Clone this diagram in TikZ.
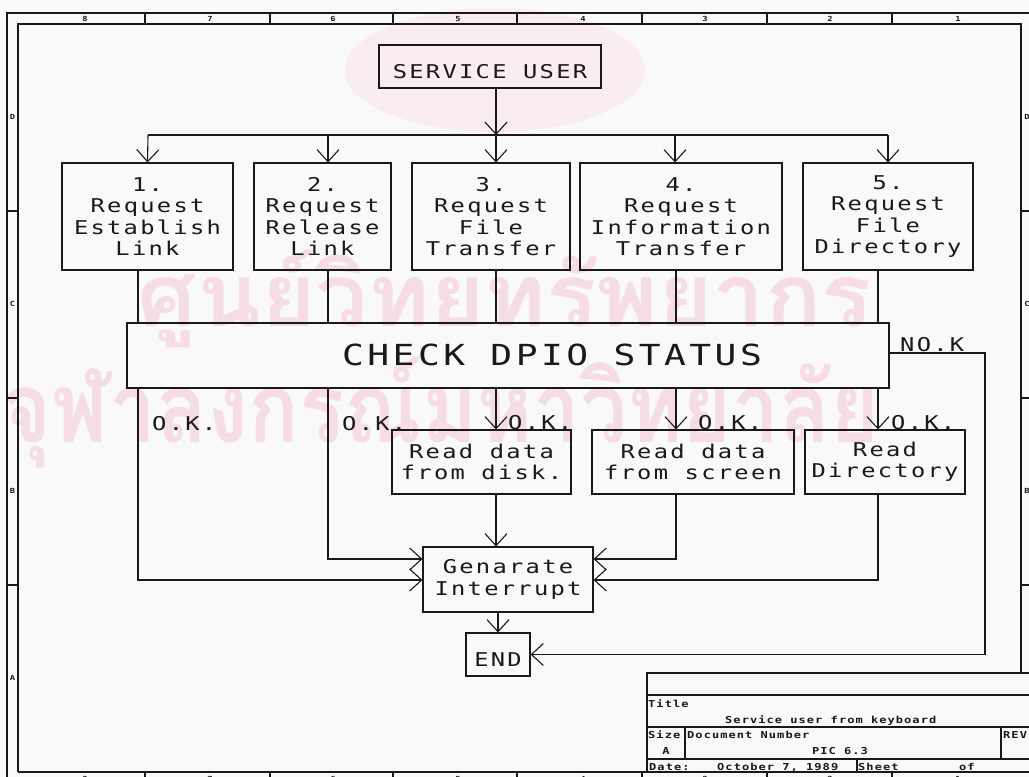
\documentclass[tikz,border=0pt]{standalone}
\usepackage{fontspec}
\usepackage{graphicx}
\usetikzlibrary{arrows.meta}
\newfontfamily\plotfont[FakeStretch=1.25,LetterSpace=12]{DejaVu Sans Mono}
\newfontfamily\tbfont[FakeStretch=1.25,LetterSpace=11]{DejaVu Sans Mono}
\newfontfamily\thaifont[Script=Thai]{Loma}
\definecolor{wm}{RGB}{245,220,229}
\definecolor{wmb}{RGB}{249,237,242}
\definecolor{paper}{RGB}{250,249,249}
\definecolor{ink}{RGB}{25,25,25}
\newcommand{\topstrut}{\rule{0pt}{24pt}}
\tikzset{
 pl/.style={draw=ink, line width=1.1pt},
 box/.style={draw=ink, line width=1.1pt, inner sep=0pt, align=center, font=\plotfont\fontsize{19}{21.5}\selectfont, text=ink, execute at begin node={\topstrut}},
 txt/.style={inner sep=0pt, font=\plotfont\fontsize{19}{21.5}\selectfont, text=ink},
 bigtxt/.style={inner sep=0pt, font=\plotfont\fontsize{29}{32}\selectfont, text=ink},
 tb/.style={inner sep=0pt, font=\tbfont\bfseries\fontsize{9.6}{11}\selectfont, text=ink},
 fr/.style={inner sep=0pt, font=\tbfont\bfseries\fontsize{7}{8}\selectfont, text=ink},
 arr/.style={draw=ink, line width=1.1pt, -{Straight Barb[length=12pt,width=22pt]}},
}
\begin{document}
\begin{tikzpicture}[x=1pt,y=-1pt]
\useasboundingbox (0,0) rectangle (1029,777);
\fill[paper] (0,0) rectangle (1029,777);
\begin{scope}
\clip (0,0) rectangle (1029,777);
% watermark
\fill[wmb] (495,70) ellipse [x radius=150pt, y radius=62pt];
\node[text=wm, inner sep=0pt] (wm1) at (505,299) {\resizebox*{734pt}{98pt}{\thaifont\bfseries ศูนย์วิทยทรัพยากร}};
\node[text=wm, inner sep=0pt] (wm2) at (441,412) {\resizebox*{877pt}{111pt}{\thaifont\bfseries จุฬาลงกรณ์มหาวิทยาลัย}};
% frame
\draw[pl] (7,13) rectangle (1040,790);
\draw[pl] (18,772) -- (18,24) -- (1021,24) -- (1021,673);
\draw[pl] (18,772) -- (1029,772);
\foreach \x in {145,270,393,517,642,767,892} {
  \draw[pl] (\x,13) -- (\x,24);
  \draw[pl] (\x,772) -- (\x,790);
}
\foreach \x/\t in {85/8,210/7,333/6,458/5,583/4,705/3,830/2,958/1} {
  \node[fr] at (\x,19) {\t};
  \node[fr] at (\x,779) {\t};
}
\foreach \y in {211,398,585} {
  \draw[pl] (7,\y) -- (18,\y);
  \draw[pl] (1021,\y) -- (1040,\y);
}
\foreach \y/\t in {117/D,304/C,491/B,678/A} {
  \node[fr] at (12.5,\y) {\t};
}
\foreach \y/\t in {117/D,304/C,491/B} {
  \node[fr] at (1027,\y) {\t};
}
\end{scope}
% nodes
\node[box, minimum width=222pt, minimum height=43pt] (su) at (490,66.5) {SERVICE USER};
\node[box, minimum width=171pt, minimum height=107pt] (b1) at (147.5,216.5) {1.\\Request\\Establish\\Link};
\node[box, minimum width=137pt, minimum height=107pt] (b2) at (322.5,216.5) {2.\\Request\\Release\\Link};
\node[box, minimum width=158pt, minimum height=107pt] (b3) at (491,216.5) {3.\\Request\\File\\Transfer};
\node[box, minimum width=202pt, minimum height=107pt] (b4) at (681,216.5) {4.\\Request\\Information\\Transfer};
\node[box, minimum width=170pt, minimum height=107pt] (b5) at (888,216.5) {5.\\Request\\File\\Directory};
\node[draw=ink, line width=1.1pt, inner sep=0pt, minimum width=762pt, minimum height=65pt] (chk) at (508,355.5) {};
\node[bigtxt] (chkt) at ([xshift=44pt,yshift=1pt]chk.center) {CHECK DPIO STATUS};
\node[box, minimum width=179pt, minimum height=64pt] (rd1) at (481.5,462) {Read data\\from disk.};
\node[box, minimum width=202pt, minimum height=64pt] (rd2) at (693,462) {Read data\\from screen};
\node[box, minimum width=160pt, minimum height=64pt] (rd3) at (885,462) {Read\\Directory};
\node[box, minimum width=170pt, minimum height=65pt] (gen) at (508,579.5) {Genarate\\Interrupt};
\node[box, minimum width=64pt, minimum height=43pt] (e) at (498,654.5) {END};
% helper coordinates
\coordinate (busL) at (148,135);
\coordinate (busR) at (888,135);
\coordinate (busM) at (496,135);
\coordinate (t2) at (328,135);
\coordinate (t4) at (675,135);
\coordinate (c1) at (138,0);
\coordinate (c2) at (328,0);
\coordinate (c3) at (496,0);
\coordinate (c4) at (676,0);
\coordinate (c5) at (878,0);
\coordinate (ya) at (0,559);
\coordinate (yb) at (0,580);
\coordinate (nk) at (985,353);
% connectors
\draw[arr] (su.south -| busM) -- (busM);
\draw[pl] (busL) -- (busR);
\draw[arr] (busL) -- (b1.north);
\draw[arr] (t2) -- (b2.north -| t2);
\draw[arr] (busM) -- (b3.north -| busM);
\draw[arr] (t4) -- (b4.north -| t4);
\draw[arr] (busR) -- (b5.north -| busR);
\draw[pl] (b1.south -| c1) -- (chk.north -| c1);
\draw[pl] (b2.south -| c2) -- (chk.north -| c2);
\draw[pl] (b3.south -| c3) -- (chk.north -| c3);
\draw[pl] (b4.south -| c4) -- (chk.north -| c4);
\draw[pl] (b5.south -| c5) -- (chk.north -| c5);
\draw[arr] (chk.south -| c1) |- (gen.west |- yb);
\draw[arr] (chk.south -| c2) |- (gen.west |- ya);
\draw[arr] (chk.south -| c3) -- (rd1.north -| c3);
\draw[arr] (chk.south -| c4) -- (rd2.north -| c4);
\draw[arr] (chk.south -| c5) -- (rd3.north -| c5);
\draw[arr] (rd1.south -| c3) -- (gen.north -| c3);
\draw[arr] (rd2.south -| c4) |- (gen.east |- ya);
\draw[arr] (rd3.south -| c5) |- (gen.east |- yb);
\draw[arr] (gen.south -| e.north) -- (e.north);
\draw[arr] (chk.east |- nk) -- (nk) |- (e.east);
% labels
\node[txt, anchor=base west] (ok1) at (152,430) {O.K.};
\node[txt, anchor=base west] (ok2) at (342,430) {O.K.};
\node[txt, anchor=base west] (ok3) at (508,429) {O.K.};
\node[txt, anchor=base west] (ok4) at (698,429) {O.K.};
\node[txt, anchor=base west] (ok5) at (891,429) {O.K.};
\node[txt, anchor=base west] (nok) at (900,351) {NO.K};
% title block
\begin{scope}
\clip (0,0) rectangle (1029,777);
\draw[pl] (647,772) -- (647,673) -- (1040,673);
\draw[pl] (647,695) -- (1040,695);
\draw[pl] (647,727) -- (1040,727);
\draw[pl] (647,759) -- (1040,759);
\draw[pl] (685,727) -- (685,759);
\draw[pl] (1001,727) -- (1001,759);
\draw[pl] (857,759) -- (857,772);
\node[tb, anchor=base west] (ttl) at (648,707) {Title};
\node[tb, anchor=base west] (ttx) at (725,723) {Service user from keyboard};
\node[tb, anchor=base west] (sz) at (648,738) {Size};
\node[tb, anchor=base west] (dn) at (687,738) {Document Number};
\node[tb, anchor=base west] (rev) at (1003,738) {REV};
\node[tb, anchor=base] (sza) at (666,754) {A};
\node[tb, anchor=base] (pic) at (840,754) {PIC 6.3};
\node[tb, anchor=base west] (dt) at (649,770) {Date:};
\node[tb, anchor=base west] (dtx) at (717,770) {October  7, 1989};
\node[tb, anchor=base west] (sh) at (858,770) {Sheet};
\node[tb, anchor=base west] (of) at (959,770) {of};
\end{scope}
\end{tikzpicture}
\end{document}
